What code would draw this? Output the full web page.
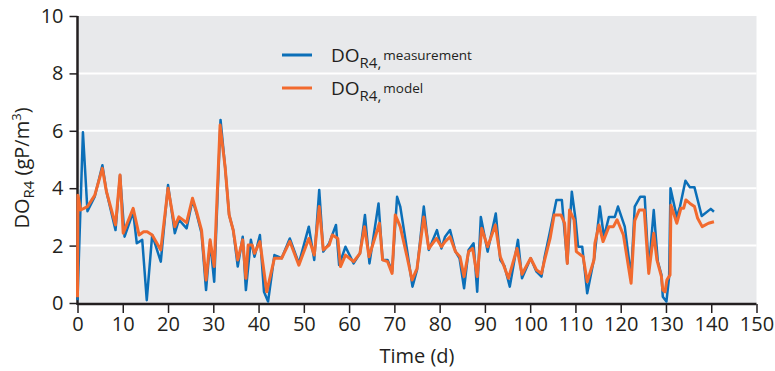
<!DOCTYPE html>
<html lang="en">
  <head>
    <meta charset="UTF-8" />
    <title>DO R4</title>
    <style>
      body {
        margin: 0;
        background: #fff;
      }
      text {
        font-family: "Open Sans", "DejaVu Sans", sans-serif;
        fill: #231f20;
      }
    </style>
  </head>

  <body>
    <script src="https://cdn.jsdelivr.net/npm/d3@7"></script>
    <script>
      // mesures
      const measTime = [
        0, 1.2, 2.2, 3.8, 5.5, 6.4, 8.4, 9.4, 10.4, 12.3, 13.1, 14.3, 15.3,
        16.5, 18.4, 20, 21.5, 22.4, 24.1, 25.4, 26.3, 27.4, 28.4, 29.3, 30.2,
        31.6, 32.6, 33.5, 34.4, 35.4, 36.5, 37.2, 38.3, 39.1, 40.3, 41.2, 42.1,
        43.5, 45.1, 46.9, 48.9, 51.1, 52.3, 53.4, 54.3, 55.6, 57.1, 57.8, 59.2,
        61, 62.4, 63.5, 64.5, 66.5, 67.4, 68.5, 69.5, 70.6, 71.3, 72.8, 74, 75,
        76.5, 77.6, 79.4, 80.4, 81.2, 82.3, 83.5, 84.4, 85.4, 86.4, 87.5, 88.3,
        89.1, 90.6, 92.4, 93.4, 94.3, 95.5, 97.3, 98.2, 100.1, 101.4, 102.5,
        103.2, 104.3, 105.8, 107, 108.2, 109.2, 110, 110.6, 111.5, 112.6, 114.2,
        115.4, 116.3, 117.4, 118.7, 119.4, 120.9, 122.3, 123.1, 124.3, 125.3,
        126.2, 127.3, 128.2, 129, 129.3, 130.1, 130.7, 131, 132.4, 133.1, 134.3,
        135.3, 136.3, 137.9, 139.9, 140.6,
      ];
      const measValue = [
        0.1, 5.95, 3.2, 3.7, 4.8, 3.88, 2.54, 4.46, 2.31, 3.18, 2.08, 2.2, 0.1,
        2.37, 1.44, 4.11, 2.43, 2.9, 2.6, 3.59, 3.12, 2.43, 0.45, 2.14, 0.74,
        6.38, 4.75, 3.07, 2.54, 1.27, 2.31, 0.45, 2.2, 1.61, 2.37, 0.39, 0.05,
        1.67, 1.56, 2.25, 1.38, 2.66, 1.5, 3.94, 1.79, 2.08, 2.72, 1.32, 1.96,
        1.38, 1.73, 3.07, 1.38, 3.47, 1.5, 1.5, 1.1, 3.7, 3.36, 1.85, 0.57, 1.15,
        3.36, 1.85, 2.54, 1.9, 2.31, 2.54, 1.79, 1.56, 0.51, 1.85, 2.08, 0.39,
        3.0, 1.79, 3.12, 1.5, 1.3, 0.57, 2.2, 0.86, 1.56, 1.09, 0.92, 1.61, 2.43,
        3.59, 3.59, 1.38, 3.88, 2.95, 1.96, 1.96, 0.34, 1.61, 3.36, 2.3, 3.0,
        3.0, 3.36, 2.66, 0.92, 3.36, 3.7, 3.7, 1.15, 3.24, 1.44, 0.98, 0.22,
        0.05, 0.92, 4.0, 3.0, 3.36, 4.26, 4.03, 4.03, 3.03, 3.28, 3.18,
      ];

      // modèle
      const modelTime = [
        0, 0.1, 0.7, 2.2, 3.8, 5.5, 6.4, 8.4, 9.4, 10.1, 12.3, 13.6, 14.6, 15.4,
        16.5, 18.4, 20, 21.5, 22.4, 24.1, 25.4, 26.3, 27.4, 28.4, 29.3, 30.2,
        31.5, 32.6, 33.5, 34.4, 35.4, 36.5, 37.2, 37.7, 38.6, 39.1, 40.3, 41.8,
        43.5, 45.1, 46.9, 48.9, 51.1, 52.3, 53.4, 54.3, 55.6, 56.3, 57.5, 58.1,
        59.2, 61, 62.4, 63.4, 64.4, 66.7, 67.4, 68.5, 69.5, 70.2, 71.3, 72.8,
        73.9, 75, 76.5, 77.6, 79.3, 80.4, 81.2, 82.3, 83.5, 84.5, 85.4, 86.4,
        87.3, 88.3, 89.3, 90.6, 92.3, 93.4, 94, 95.2, 97.1, 98.2, 100.1, 101.4,
        102.5, 103.2, 104.4, 105.3, 106.8, 107.6, 108.2, 108.7, 109.7, 110.2,
        111.7, 112.6, 114.1, 114.3, 115.2, 116.1, 117.4, 118.4, 119.2, 120.6,
        122.3, 123.1, 124.1, 125.2, 126.2, 127.3, 128, 129, 129.3, 129.8, 130.2,
        130.9, 131.1, 132.4, 133.3, 133.9, 134.4, 135.3, 136.3, 137, 138, 139.4,
        140.6,
      ];
      const modelValue = [
        0.2, 3.75, 3.24, 3.36, 3.75, 4.69, 3.88, 2.72, 4.46, 2.43, 3.3, 2.37,
        2.48, 2.48, 2.37, 1.85, 4.0, 2.66, 3.0, 2.8, 3.65, 3.18, 2.54, 0.8, 2.2,
        1.27, 6.2, 4.75, 3.07, 2.54, 1.5, 2.2, 0.86, 2.02, 2.02, 1.73, 2.14,
        0.39, 1.56, 1.56, 2.15, 1.32, 2.25, 1.67, 3.36, 1.85, 2.02, 2.37, 2.25,
        1.27, 1.67, 1.44, 1.73, 2.66, 1.61, 2.78, 1.5, 1.44, 1.03, 3.07, 2.66,
        1.61, 0.8, 1.2, 3.0, 1.9, 2.25, 1.96, 2.14, 2.31, 1.79, 1.61, 0.92, 1.79,
        1.9, 0.92, 2.6, 1.96, 2.72, 1.61, 1.38, 0.86, 1.9, 1.0, 1.56, 1.15, 1.03,
        1.5, 2.25, 3.07, 3.07, 2.78, 1.38, 3.24, 2.9, 1.79, 1.61, 0.74, 1.5,
        2.08, 2.72, 2.14, 2.66, 2.66, 2.9, 2.37, 0.69, 2.87, 3.24, 3.24, 1.03,
        2.43, 1.5, 0.92, 0.45, 0.39, 0.8, 0.98, 3.41, 2.78, 3.3, 3.3, 3.59, 3.47,
        3.36, 2.95, 2.66, 2.78, 2.83,
      ];

      const xTicks = [0, 10, 20, 30, 40, 50, 60, 70, 80, 90, 100, 110, 120, 130, 140, 150];
      const yTicks = [0, 2, 4, 6, 8, 10];
      const gridValues = [2, 4, 6, 8];

      const width = 775;
      const height = 371;
      const margin = { top: 16, right: 18.5, bottom: 68, left: 77.5 };

      const svg = d3
        .select("body")
        .append("svg")
        .attr("width", width)
        .attr("height", height);

      const x = d3
        .scaleLinear()
        .domain([0, 150])
        .range([margin.left, width - margin.right]);

      const y = d3
        .scaleLinear()
        .domain([0, 10])
        .range([height - margin.bottom, margin.top]);

      // fond gris
      svg
        .append("rect")
        .attr("x", x(0))
        .attr("y", y(10))
        .attr("width", x(150) - x(0))
        .attr("height", y(0) - y(10))
        .attr("fill", "#e8e9eb");

      // grille
      svg
        .selectAll(".grid")
        .data(gridValues)
        .enter()
        .append("line")
        .attr("x1", x(0))
        .attr("x2", x(150))
        .attr("y1", (d) => y(d))
        .attr("y2", (d) => y(d))
        .attr("stroke", "#fff")
        .attr("stroke-width", 2);

      // axes
      const xAxis = svg
        .append("g")
        .attr("transform", `translate(0, ${y(0) + 1})`)
        .call(
          d3
            .axisBottom(x)
            .tickValues(xTicks)
            .tickSize(9)
            .tickPadding(4)
        );

      const yAxis = svg
        .append("g")
        .attr("transform", `translate(${x(0)}, 0)`)
        .call(
          d3
            .axisLeft(y)
            .tickValues(yTicks)
            .tickSize(8)
            .tickPadding(6)
        );

      [xAxis, yAxis].forEach((a) => {
        a.select(".domain").attr("stroke", "#231f20").attr("stroke-width", 2.5);
        a.selectAll(".tick line").attr("stroke", "#231f20").attr("stroke-width", 1.5);
        a.selectAll(".tick text")
          .attr("font-size", 20)
          .attr("font-family", null)
          .attr("fill", "#231f20");
      });
      xAxis.select(".domain").attr("d", `M${x(0)},0H${x(150)}`);
      yAxis.select(".domain").attr("d", `M0,${y(10)}V${y(0) + 2}`);

      // lignes
      const line = d3
        .line()
        .x((d) => x(d[0]))
        .y((d) => y(d[1]));

      const meas = measTime.map((t, i) => [t, measValue[i]]);
      const model = modelTime.map((t, i) => [t, modelValue[i]]);

      svg
        .append("path")
        .datum(meas)
        .attr("d", line)
        .attr("fill", "none")
        .attr("stroke", "#0b6fb8")
        .attr("stroke-width", 2.5)
        .attr("stroke-linejoin", "round");

      svg
        .append("path")
        .datum(model)
        .attr("d", line)
        .attr("fill", "none")
        .attr("stroke", "#f26a2e")
        .attr("stroke-width", 3)
        .attr("stroke-linejoin", "round");

      // titres d'axes
      svg
        .append("text")
        .attr("x", (x(0) + x(150)) / 2)
        .attr("y", 363)
        .attr("text-anchor", "middle")
        .attr("font-size", 20)
        .text("Time (d)");

      const yLabel = svg
        .append("text")
        .attr("transform", `translate(29, 168) rotate(-90)`)
        .attr("text-anchor", "middle")
        .attr("font-size", 20);
      yLabel.append("tspan").text("DO");
      yLabel.append("tspan").attr("font-size", 15).attr("dy", 5).text("R4");
      yLabel.append("tspan").attr("dy", -5).text(" (gP/m");
      yLabel.append("tspan").attr("font-size", 13).attr("dy", -8).text("3");
      yLabel.append("tspan").attr("dy", 8).text(")");

      // légende
      const legendItems = [
        { label: "measurement", color: "#0b6fb8", cy: 55 },
        { label: "model", color: "#f26a2e", cy: 88 },
      ];
      const legend = svg.append("g");
      legendItems.forEach((item) => {
        legend
          .append("line")
          .attr("x1", 282)
          .attr("x2", 312)
          .attr("y1", item.cy)
          .attr("y2", item.cy)
          .attr("stroke", item.color)
          .attr("stroke-width", 3);
        const t = legend
          .append("text")
          .attr("x", 331)
          .attr("y", item.cy + 7)
          .attr("font-size", 19);
        t.append("tspan").text("DO");
        t.append("tspan").attr("font-size", 15).attr("dy", 6).text("R4,");
        t.append("tspan").attr("font-size", 13.5).attr("dy", -8).attr("dx", 2).text(item.label);
      });
    </script>
  </body>
</html>
